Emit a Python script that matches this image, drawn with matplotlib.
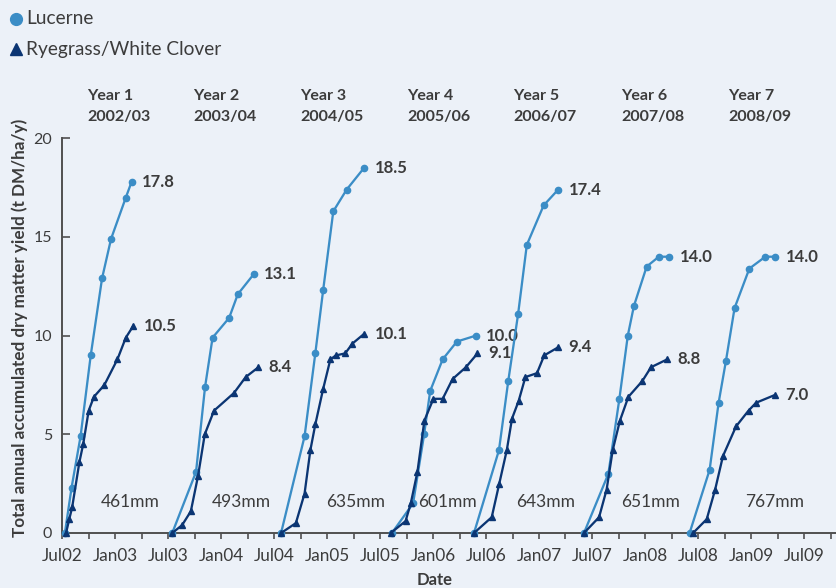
import matplotlib
matplotlib.use("Agg")
import matplotlib.pyplot as plt
import matplotlib.dates as mdates
import matplotlib.transforms as mtransforms
import pandas as pd
from matplotlib.lines import Line2D

# ---- data -------------------------------------------------------------
season_names = ["Year 1", "Year 2", "Year 3", "Year 4", "Year 5", "Year 6", "Year 7"]
season_years = ["2002/03", "2003/04", "2004/05", "2005/06", "2006/07", "2007/08", "2008/09"]
rainfall_mm = [461, 493, 635, 601, 643, 651, 767]

lucerne_dates = [
    ["2002-07-11", "2002-08-03", "2002-09-03", "2002-10-08", "2002-11-16", "2002-12-17", "2003-02-06", "2003-02-26"],
    ["2003-07-16", "2003-10-06", "2003-11-06", "2003-12-02", "2004-01-28", "2004-02-27", "2004-04-21"],
    ["2004-07-25", "2004-10-14", "2004-11-20", "2004-12-17", "2005-01-21", "2005-03-08", "2005-05-07"],
    ["2005-08-11", "2005-10-23", "2005-11-30", "2005-12-21", "2006-02-02", "2006-03-23", "2006-05-27"],
    ["2006-05-21", "2006-08-15", "2006-09-16", "2006-10-20", "2006-11-19", "2007-01-16", "2007-03-07"],
    ["2007-06-04", "2007-08-27", "2007-10-04", "2007-11-02", "2007-11-23", "2008-01-06", "2008-02-17", "2008-03-23"],
    ["2008-06-02", "2008-08-10", "2008-09-10", "2008-10-05", "2008-11-04", "2008-12-25", "2009-02-18", "2009-03-24"],
]
lucerne_yield = [
    [0, 2.3, 4.9, 9.0, 12.9, 14.9, 17.0, 17.8],
    [0, 3.1, 7.4, 9.9, 10.9, 12.1, 13.1],
    [0, 4.9, 9.1, 12.3, 16.3, 17.4, 18.5],
    [0, 1.5, 5.0, 7.2, 8.8, 9.7, 10.0],
    [0, 4.2, 7.7, 11.1, 14.6, 16.6, 17.4],
    [0, 3.0, 6.8, 10.0, 11.5, 13.5, 14.0, 14.0],
    [0, 3.2, 6.6, 8.7, 11.4, 13.4, 14.0, 14.0],
]

ryegrass_dates = [
    ["2002-07-15", "2002-07-26", "2002-08-05", "2002-08-30", "2002-09-12", "2002-10-01", "2002-10-19", "2002-11-24", "2003-01-08", "2003-02-06", "2003-03-04"],
    ["2003-07-16", "2003-08-19", "2003-09-18", "2003-10-13", "2003-11-05", "2003-12-07", "2004-02-14", "2004-03-25", "2004-05-08"],
    ["2004-07-25", "2004-09-14", "2004-10-14", "2004-11-03", "2004-11-20", "2004-12-17", "2005-01-11", "2005-01-30", "2005-03-03", "2005-03-28", "2005-05-08"],
    ["2005-08-07", "2005-09-27", "2005-10-15", "2005-11-07", "2005-12-01", "2006-01-01", "2006-02-02", "2006-03-08", "2006-04-23", "2006-06-02"],
    ["2006-05-21", "2006-07-21", "2006-08-16", "2006-09-11", "2006-09-29", "2006-10-22", "2006-11-14", "2006-12-24", "2007-01-18", "2007-03-06"],
    ["2007-06-04", "2007-07-26", "2007-08-21", "2007-09-11", "2007-10-06", "2007-11-04", "2007-12-22", "2008-01-21", "2008-03-17"],
    ["2008-06-14", "2008-07-31", "2008-08-29", "2008-09-25", "2008-11-09", "2008-12-22", "2009-01-17", "2009-03-24"],
]
ryegrass_yield = [
    [0, 0.7, 1.3, 3.6, 4.5, 6.2, 6.9, 7.5, 8.8, 9.9, 10.5],
    [0, 0.4, 1.1, 2.9, 5.0, 6.2, 7.1, 7.9, 8.4],
    [0, 0.5, 2.0, 4.2, 5.5, 7.3, 8.8, 9.0, 9.1, 9.6, 10.1],
    [0, 0.6, 1.5, 3.1, 5.7, 6.8, 6.8, 7.8, 8.4, 9.1],
    [0, 0.8, 2.5, 4.2, 5.8, 6.7, 7.9, 8.1, 9.0, 9.4],
    [0, 0.8, 2.2, 4.2, 5.7, 6.9, 7.7, 8.4, 8.8],
    [0, 0.7, 2.2, 3.9, 5.4, 6.2, 6.6, 7.0],
]

# ---- style ------------------------------------------------------------
BG = "#ECF1F8"
LUCERNE = "#3B8DC6"
RYEGRASS = "#0B3573"
TEXT = "#3C3C3C"
AXIS = "#505050"

plt.rcParams["font.family"] = ["Lato", "DejaVu Sans"]

W, H = 837, 588
fig = plt.figure(figsize=(W / 100, H / 100), dpi=100, facecolor=BG)

# plot area in pixels: left spine x=62, bottom y=533, top y=138
ax = fig.add_axes([62 / W, 1 - 533 / H, 775 / W, (533 - 138.3) / H])
ax.set_facecolor(BG)


def draw_series(dates_list, values_list, color, marker, z):
    for dates, vals in zip(dates_list, values_list):
        x = pd.to_datetime(dates)
        ax.plot(x, vals, color=color, lw=1.65, marker=marker, ms=4.5,
                clip_on=False, zorder=z)
        ax.annotate(f"{vals[-1]:.1f}", (x[-1], vals[-1]), xytext=(7.5, 0),
                    textcoords="offset points", ha="left", va="center",
                    fontsize=12, fontweight="bold", color=TEXT)


draw_series(lucerne_dates, lucerne_yield, LUCERNE, "o", 3)
draw_series(ryegrass_dates, ryegrass_yield, RYEGRASS, "^", 4)

# seasonal rainfall, written near the bottom of each season
rain_x = [0.088, 0.231, 0.379, 0.498, 0.624, 0.760, 0.920]
rain_tr = mtransforms.blended_transform_factory(ax.transAxes, ax.transData)
for xf, mm in zip(rain_x, rainfall_mm):
    ax.text(xf, 1.57, f"{mm}mm", transform=rain_tr,
            ha="center", va="center", fontsize=12.5, color=TEXT)

# axes
ax.set_xlim(pd.Timestamp("2002-07-01"), pd.Timestamp("2009-10-23"))
ax.set_ylim(0, 20)
ax.set_yticks([0, 5, 10, 15, 20])
ax.xaxis.set_major_locator(mdates.MonthLocator(bymonth=[1, 7]))
ax.xaxis.set_minor_locator(mdates.MonthLocator(bymonth=[4, 10]))
ax.xaxis.set_major_formatter(mdates.DateFormatter("%b%y"))

for side in ("top", "right"):
    ax.spines[side].set_visible(False)
for side in ("left", "bottom"):
    ax.spines[side].set_color(AXIS)
    ax.spines[side].set_linewidth(1.4)

ax.tick_params(axis="x", which="both", direction="out", length=4.5, width=1.2,
               color=AXIS, labelsize=12.3, labelcolor=TEXT, pad=6)
ax.tick_params(axis="y", which="major", direction="in", length=5.5, width=1.2,
               color=AXIS, labelsize=11.5, labelcolor=TEXT, pad=7)

fig.text(20 / W, 1 - 328 / H, "Total annual accumulated dry matter yield (t DM/ha/y)",
         rotation=90, ha="center", va="center", fontsize=12.3, fontweight="bold", color=TEXT)
fig.text(435 / W, 1 - 580 / H, "Date", ha="center", va="center",
         fontsize=12, fontweight="bold", color=TEXT)

# season headings
head_x = [87, 193, 300, 407, 513, 621, 728]
for px, name, yrs in zip(head_x, season_names, season_years):
    fig.text(px / W, 1 - 96 / H, name, ha="left", va="center",
             fontsize=11.5, fontweight="bold", color=TEXT)
    fig.text(px / W, 1 - 117 / H, yrs, ha="left", va="center",
             fontsize=11.5, fontweight="bold", color=TEXT)

# key in the top-left corner
key_items = [("Lucerne", "o", LUCERNE, 19), ("Ryegrass/White Clover", "^", RYEGRASS, 49)]
for label, marker, color, py in key_items:
    fig.add_artist(Line2D([16 / W], [1 - py / H], transform=fig.transFigure,
                          ls="none", marker=marker, ms=8.5, color=color))
    fig.text(26 / W, 1 - py / H, label, ha="left", va="center",
             fontsize=13.8, color=TEXT)

fig.savefig("out.png", dpi=100, facecolor=BG)
